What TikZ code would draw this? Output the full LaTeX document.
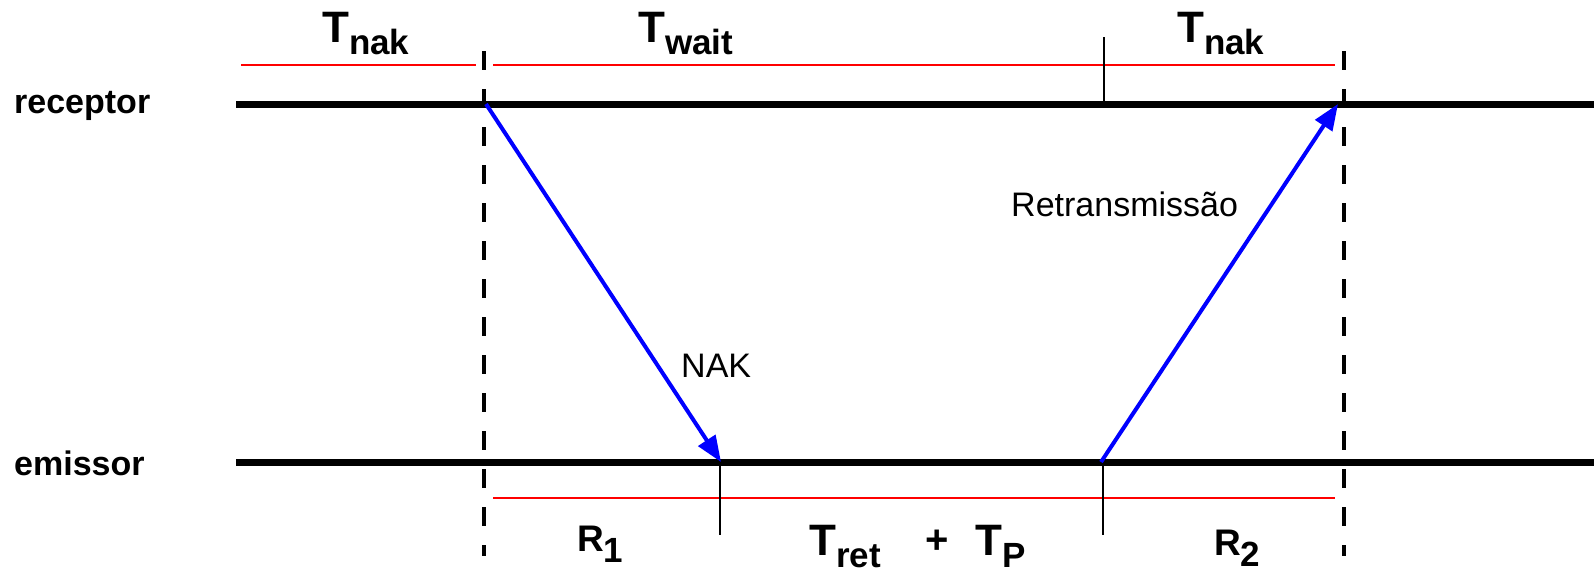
\documentclass[tikz,border=0pt]{standalone}
\usepackage{fontspec}
\setmainfont{Liberation Sans}
\usetikzlibrary{arrows.meta}
\tikzset{
  timeline/.style={line width=7pt, black},
  divider/.style={line width=4.5pt, black, dash pattern=on 19pt off 19pt},
  span/.style={line width=2pt, red},
  tick/.style={line width=1.5pt, black},
  msg/.style={line width=4pt, blue, -{Triangle[length=26pt,width=20pt]}},
  lbl/.style={inner sep=0pt, font=\fontsize{34}{34}\selectfont\bfseries},
  tlbl/.style={inner sep=0pt, anchor=base west, font=\bfseries},
  txt/.style={inner sep=0pt, font=\fontsize{34}{34}\selectfont}
}
\newcommand{\Tsub}[2]{{\fontsize{44}{44}\selectfont #1}\raisebox{-12pt}{\fontsize{35}{35}\selectfont #2}}
\newcommand{\Rsub}[2]{{\fontsize{37}{37}\selectfont #1}\raisebox{-11pt}{\fontsize{35}{35}\selectfont #2}}
\begin{document}
\begin{tikzpicture}[x=1pt,y=-1pt]
\useasboundingbox[fill=white] (0,0) rectangle (1594,574);
% coordinates
\coordinate (rL) at (236,104);
\coordinate (rR) at (1594,104);
\coordinate (eL) at (236,462);
\coordinate (eR) at (1594,462);
\coordinate (r1) at (486,104);
\coordinate (e1) at (721,462);
\coordinate (e2) at (1101,462);
\coordinate (r2) at (1338,104);
\coordinate (dLt) at (484,51);
\coordinate (dLb) at (484,556);
\coordinate (dRt) at (1344,51);
\coordinate (dRb) at (1344,556);
% timelines
\draw[timeline] (rL) -- (rR);
\draw[timeline] (eL) -- (eR);
% dashed dividers
\draw[divider] (dLt) -- (dLb);
\draw[divider] (dRt) -- (dRb);
% red spans
\coordinate (s1a) at (241,65); \coordinate (s1b) at (476,65);
\coordinate (s2a) at (493,65); \coordinate (s2b) at (1335,65);
\coordinate (s3a) at (493,498); \coordinate (s3b) at (1335,498);
\draw[span] (s1a) -- (s1b);
\draw[span] (s2a) -- (s2b);
\draw[span] (s3a) -- (s3b);
% ticks
\coordinate (t1a) at (1104,37); \coordinate (t1b) at (1104,104);
\coordinate (t2a) at (720,466); \coordinate (t2b) at (720,535);
\coordinate (t3a) at (1103,466); \coordinate (t3b) at (1103,535);
\draw[tick] (t1a) -- (t1b);
\draw[tick] (t2a) -- (t2b);
\draw[tick] (t3a) -- (t3b);
% messages
\draw[msg] (r1) -- (e1);
\draw[msg] (e2) -- (r2);
% labels
\node[lbl, anchor=west] (rec) at (14,106) {receptor};
\node[lbl, anchor=west] (emi) at (14,463) {emissor};
\node[tlbl] (tnak1) at (322,42) {\Tsub{T}{nak}};
\node[tlbl] (twait) at (638,42) {\Tsub{T}{wait}};
\node[tlbl] (tnak2) at (1177,42) {\Tsub{T}{nak}};
\node[txt, anchor=base west] (nak) at (681,377) {NAK};
\node[txt, anchor=base west] (ret) at (1011,216) {Retransmissão};
\node[tlbl] (r1l) at (577,551) {\Rsub{R}{1}};
\node[tlbl] (tret) at (809,555) {\Tsub{T}{ret}};
\node[tlbl] (plus) at (925,553) {{\fontsize{40}{40}\selectfont +}};
\node[tlbl] (tp) at (975,555) {\Tsub{T}{P}};
\node[tlbl] (r2l) at (1214,555) {\Rsub{R}{2}};
\end{tikzpicture}
\end{document}
